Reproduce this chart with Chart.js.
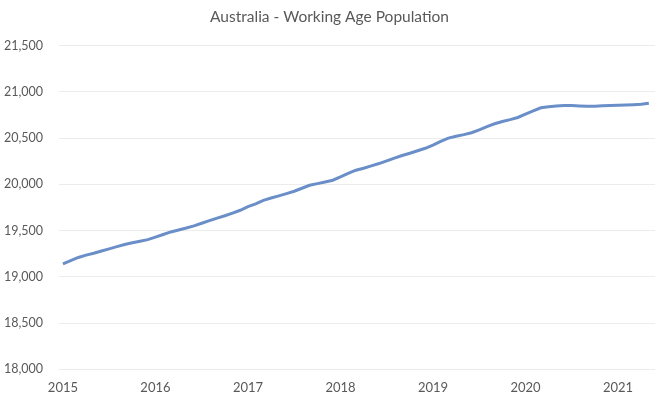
<!DOCTYPE html>
<html>
<head>
<meta charset="utf-8">
<script src="https://cdn.jsdelivr.net/npm/chart.js@4"></script>
<style>
    html, body { margin: 0; padding: 0; background: #fff; }
    #wrap { width: 660px; height: 399px; }
</style>
</head>
<body>
<div id="wrap"><canvas id="popChart"></canvas></div>
<script>
// monthly, Jan 2015 .. May 2021 (thousands)
const startYear = 2015;
const yearLabels = ["2015", "2016", "2017", "2018", "2019", "2020", "2021"];
const workingAgePop = [
    19140, 19175, 19210, 19235, 19255, 19280, 19303, 19327, 19350, 19368, 19386, 19403,
    19430, 19458, 19486, 19507, 19528, 19551, 19580, 19608, 19635, 19661, 19690, 19720,
    19760, 19790, 19828, 19853, 19876, 19900, 19926, 19958, 19990, 20008, 20026, 20045,
    20080, 20118, 20153, 20175, 20200, 20225, 20254, 20283, 20312, 20336, 20363, 20390,
    20425, 20465, 20500, 20520, 20538, 20558, 20590, 20625, 20655, 20680, 20700, 20723,
    20760, 20795, 20828, 20840, 20848, 20853, 20852, 20848, 20844, 20845, 20850, 20853,
    20856, 20858, 20861, 20865, 20876
];
const yTicks = [18000, 18500, 19000, 19500, 20000, 20500, 21000, 21500];

const grey = "#595959";
const family = "Lato, 'Open Sans', sans-serif";

document.addEventListener("DOMContentLoaded", () => {
    const ctx = document.getElementById("popChart").getContext("2d");
    new Chart(ctx, {
        type: "line",
        data: {
            datasets: [
                {
                    label: "Working Age Population",
                    data: workingAgePop.map((v, i) => ({ x: i, y: v })),
                    borderColor: "#6a8ec8",
                    borderWidth: 3,
                    pointRadius: 0,
                    tension: 0,
                    fill: false,
                },
            ],
        },
        options: {
            responsive: true,
            maintainAspectRatio: false,
            animation: false,
            layout: { padding: { left: 4, right: 5, top: 4, bottom: 0 } },
            plugins: {
                legend: { display: false },
                tooltip: { enabled: false },
                title: {
                    display: true,
                    text: "Australia - Working Age Population",
                    color: grey,
                    font: { family: family, size: 15.5, weight: "normal" },
                    padding: { top: 4, bottom: 19 },
                },
            },
            scales: {
                x: {
                    type: "linear",
                    min: -0.5,
                    max: 76.8,
                    grid: { display: false },
                    border: { display: false },
                    ticks: {
                        stepSize: 12,
                        includeBounds: false,
                        color: grey,
                        font: { family: family, size: 13 },
                        padding: 3,
                        maxRotation: 0,
                        callback: (value) => yearLabels[value / 12] ?? "",
                    },
                },
                y: {
                    min: yTicks[0],
                    max: yTicks[yTicks.length - 1],
                    grid: { color: "#ececec", drawTicks: false },
                    border: { display: false },
                    ticks: {
                        stepSize: 500,
                        color: grey,
                        font: { family: family, size: 12.5 },
                        padding: 8,
                        crossAlign: "far",
                        callback: (value) => value.toLocaleString("en-US"),
                    },
                },
            },
        },
    });
});
</script>
</body>
</html>
